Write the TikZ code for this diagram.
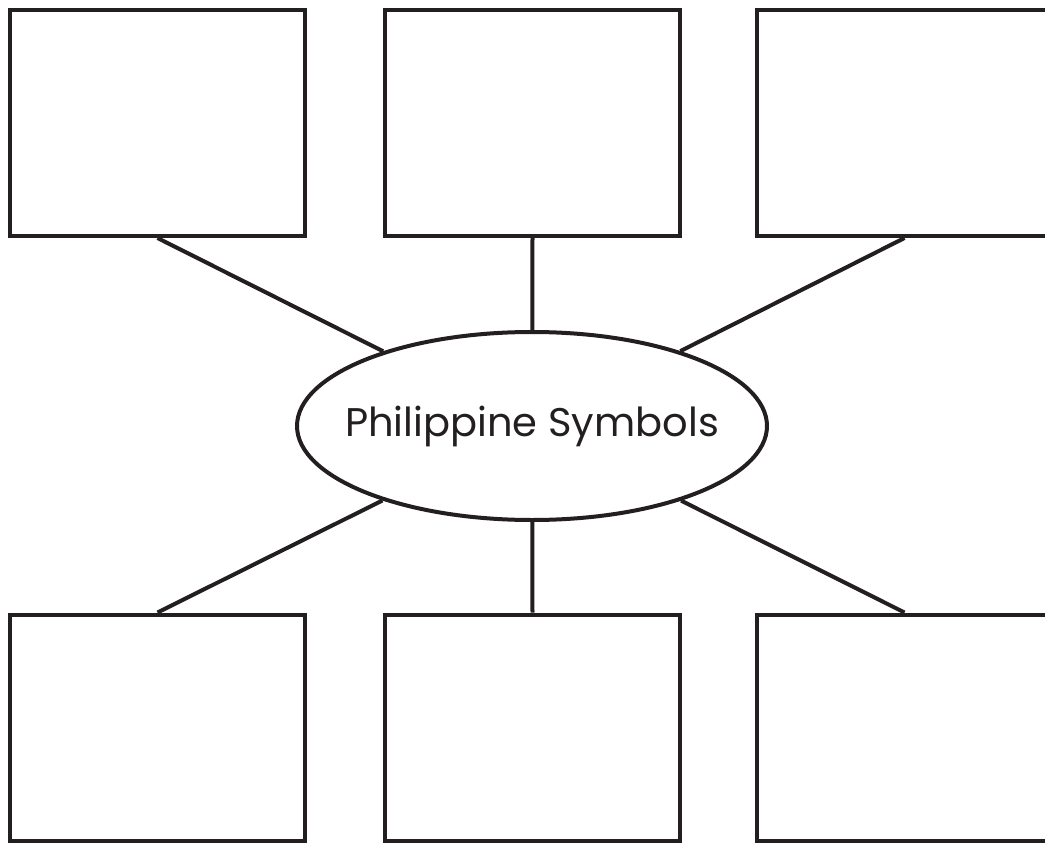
\documentclass[tikz,border=0pt]{standalone}
\usepackage{fontspec}
\setmainfont{Poppins}
\usetikzlibrary{shapes.geometric}
\definecolor{ink}{HTML}{231F20}

\begin{document}
\begin{tikzpicture}[
  x=1pt, y=-1pt, ink,
  card/.style={draw=ink, line width=4pt, minimum width=295pt,
               minimum height=226pt, inner sep=0pt},
  hub/.style={draw=ink, ellipse, line width=4pt, minimum width=470pt,
              minimum height=188pt, inner sep=0pt, font=\fontsize{40}{48}\selectfont},
  spoke/.style={draw=ink, line width=4pt},
]
\useasboundingbox (0,0) rectangle (1045,843);

% ---- the centre -------------------------------------------------------------
\node[hub] (sym) at (532,426) {\makebox[0pt]{Philippine Symbols}};

% ---- six empty cards --------------------------------------------------------
\node[card] (tl) at (157.5,123) {};
\node[card] (tm) at (532.5,123) {};
\node[card] (tr) at (904.5,123) {};
\node[card] (bl) at (157.5,727.5) {};
\node[card] (bm) at (532.5,727.5) {};
\node[card] (br) at (904.5,727.5) {};

% ---- spokes -----------------------------------------------------------------
\foreach \c in {tl,tm,tr}
  \draw[spoke] (\c.south) -- (sym);
\foreach \c in {bl,bm,br}
  \draw[spoke] (\c.north) -- (sym);

\end{tikzpicture}
\end{document}
